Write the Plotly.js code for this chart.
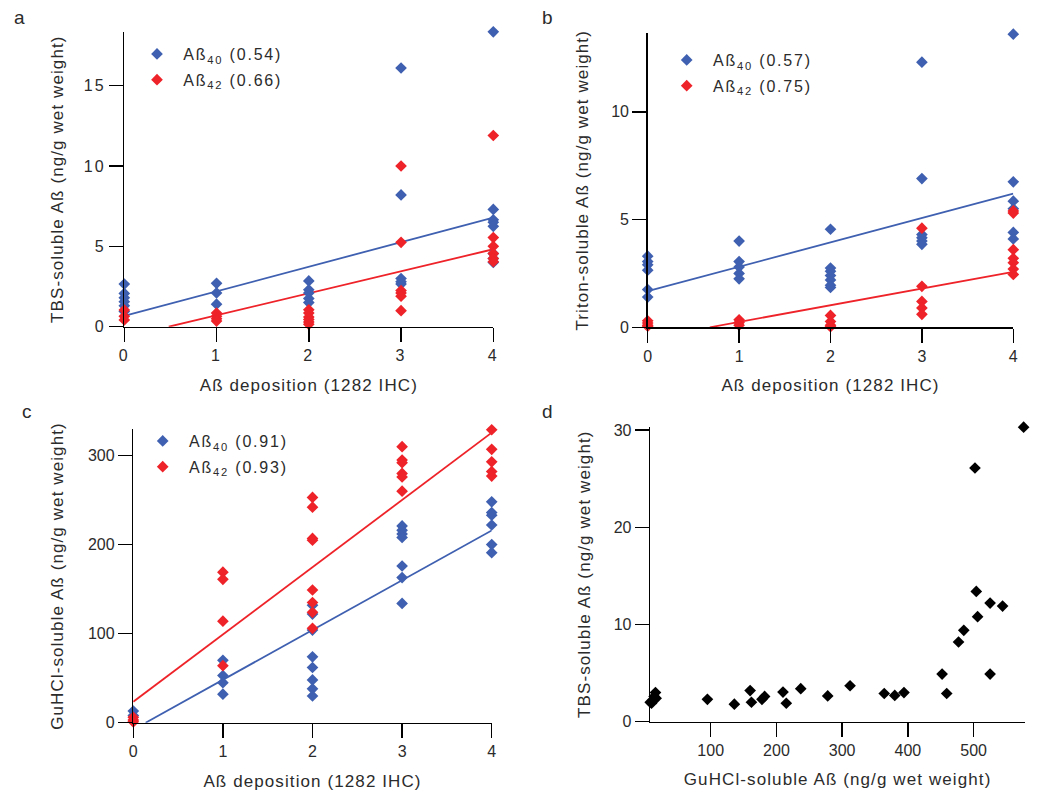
<!DOCTYPE html>
<html>
<head>
<meta charset="utf-8">
<script src="https://cdn.plot.ly/plotly-3.0.1.min.js"></script>
<style>
  html, body { margin: 0; padding: 0; background: #fff; }
  #chart { width: 1050px; height: 804px; }
  .main-svg .xtick text, .main-svg .ytick text { letter-spacing: 2px; }
  .main-svg text[class*="title"] { letter-spacing: 1.1px; }
</style>
</head>
<body>
<div id="chart"></div>
<script>
// ---------- Panel a: TBS-soluble Aß vs deposition ----------
const aX40 = [0,0,0,0,0,0, 1,1,1, 2,2,2,2,2, 3,3,3,3,3, 4,4,4,4,4,4,4,4];
const aY40 = [2.65,2.07,1.8,1.56,1.3,0.95, 2.7,2.1,1.4, 2.85,2.3,2.1,1.75,1.5, 16.1,8.2,3.0,2.8,2.65, 18.35,7.3,6.65,6.5,6.25,4.55,4.25,4.0];
const aX42 = [0,0,0, 1,1,1,1, 2,2,2,2,2,2, 3,3,3,3,3,3, 4,4,4,4,4,4];
const aY42 = [1.04,0.65,0.42, 0.85,0.65,0.5,0.35, 1.05,0.85,0.6,0.45,0.3,0.15, 10.0,5.25,2.25,2.1,1.9,1.0, 11.9,5.55,5.0,4.55,4.25,4.05];
const aFit40 = [1.53, 0.67];   // [slope, intercept]
const aFit42 = [1.37, -0.66];
const aR = ['0.54', '0.66'];

// ---------- Panel b: Triton-soluble Aß vs deposition ----------
const bX40 = [0,0,0,0,0,0, 1,1,1,1,1, 2,2,2,2,2,2,2, 3,3,3,3,3,3, 4,4,4,4,4,4];
const bY40 = [3.3,3.05,2.9,2.65,1.75,1.4, 4.0,3.05,2.8,2.5,2.25, 4.55,2.75,2.6,2.4,2.2,1.95,1.85, 12.3,6.9,4.3,4.15,4.0,3.85, 13.6,6.75,5.85,5.5,4.4,4.1];
const bX42 = [0,0,0,0, 1,1,1, 2,2,2,2, 3,3,3,3,3, 4,4,4,4,4,4,4];
const bY42 = [0.3,0.2,0.1,0.05, 0.35,0.22,0.1, 0.55,0.27,0.1,0.03, 4.6,1.9,1.2,0.9,0.6, 5.4,5.3,3.6,3.2,3.0,2.7,2.45];
const bFit40 = [1.13, 1.68];
const bFit42 = [0.774, -0.526];
const bR = ['0.57', '0.75'];

// ---------- Panel c: GuHCl-soluble Aß vs deposition ----------
const cX40 = [0,0, 1,1,1,1, 2,2,2,2,2,2,2,2, 3,3,3,3,3,3,3, 4,4,4,4,4,4];
const cY40 = [13,8, 70,53,45,32, 132,122,104,74,62,48,38,30, 221,216,212,208,176,163,134, 248,236,233,222,200,191];
const cX42 = [0,0,0, 1,1,1,1, 2,2,2,2,2,2,2,2, 3,3,3,3,3,3, 4,4,4,4,4];
const cY42 = [6,3,1, 169,161,114,64, 253,242,207,205,149,135,124,106, 310,295,292,280,276,260, 329,307,293,282,277];
const cFit40 = [55.9, -7.7];
const cFit42 = [75.55, 23.5];
const cR = ['0.91', '0.93'];

// ---------- Panel d: TBS-soluble vs GuHCl-soluble Aß ----------
const dX = [8,10,12,14,16,17, 95,136,160,162,178,182,210,215,237,278,312,364,380,394,452,459,477,485,502,504,506,525,525,544,576];
const dY = [2.0,1.9,2.2,2.6,3.0,2.4, 2.3,1.8,3.2,2.0,2.3,2.6,3.05,1.9,3.4,2.65,3.7,2.9,2.7,3.0,4.9,2.9,8.2,9.4,26.1,13.4,10.8,12.2,4.9,11.9,30.3];

const depTicks = [0, 1, 2, 3, 4];
const dTicksX = [100, 200, 300, 400, 500];
const panelLabels = ['a', 'b', 'c', 'd'];
const depTitle = 'Aß deposition (1282 IHC)';
const yTitles = ['TBS-soluble Aß (ng/g wet weight)', 'Triton-soluble Aß (ng/g wet weight)',
                 'GuHCl-soluble Aß (ng/g wet weight)', 'TBS-soluble Aß (ng/g wet weight)'];
const dXTitle = 'GuHCl-soluble Aß (ng/g wet weight)';

const BLUE = '#3f60b0', RED = '#ee2229', TXT = '#2b2b2b';
const FONT = 'Liberation Sans, Arial, sans-serif';

function fitLine(fit, xmin, xmax) {
  const m = fit[0], b = fit[1];
  let x0 = xmin;
  if (m * x0 + b < 0) x0 = -b / m;
  return { x: [x0, xmax], y: [m * x0 + b, m * xmax + b] };
}

const traces = [];
function addPanel(n, X40, Y40, X42, Y42, f40, f42, R, legendName) {
  const xa = n === 1 ? 'x' : 'x' + n, ya = n === 1 ? 'y' : 'y' + n;
  const l40 = fitLine(f40, 0, 4), l42 = fitLine(f42, 0, 4);
  traces.push({ x: l40.x, y: l40.y, xaxis: xa, yaxis: ya, mode: 'lines', line: { color: BLUE, width: 1.8 }, showlegend: false, cliponaxis: false, hoverinfo: 'skip' });
  traces.push({ x: l42.x, y: l42.y, xaxis: xa, yaxis: ya, mode: 'lines', line: { color: RED, width: 1.8 }, showlegend: false, cliponaxis: false, hoverinfo: 'skip' });
  traces.push({ x: X40, y: Y40, xaxis: xa, yaxis: ya, mode: 'markers', type: 'scatter', cliponaxis: false,
    name: '\u00a0Aß<sub>40</sub> (' + R[0] + ')', legend: legendName, legendgroup: legendName + 'g40',
    marker: { symbol: 'diamond', size: 9, color: BLUE } });
  traces.push({ x: X42, y: Y42, xaxis: xa, yaxis: ya, mode: 'markers', type: 'scatter', cliponaxis: false,
    name: '\u00a0Aß<sub>42</sub> (' + R[1] + ')', legend: legendName, legendgroup: legendName + 'g42',
    marker: { symbol: 'diamond', size: 9, color: RED } });
}
addPanel(1, aX40, aY40, aX42, aY42, aFit40, aFit42, aR, 'legend');
addPanel(2, bX40, bY40, bX42, bY42, bFit40, bFit42, bR, 'legend2');
addPanel(3, cX40, cY40, cX42, cY42, cFit40, cFit42, cR, 'legend3');
traces.push({ x: dX, y: dY, xaxis: 'x4', yaxis: 'y4', mode: 'markers', type: 'scatter', cliponaxis: false, showlegend: false,
  marker: { symbol: 'diamond', size: 9, color: '#000' } });

const W = 1050, H = 804;
function dom(p0, p1) { return [p0 / W, p1 / W]; }
function vdom(top, bottom) { return [1 - bottom / H, 1 - top / H]; }

const axBase = {
  showline: true, linecolor: '#000', linewidth: 1.5, ticks: 'outside', ticklen: 14, tickwidth: 1.5, tickcolor: '#000',
  showgrid: false, zeroline: false, tickfont: { family: FONT, size: 16, color: TXT }, fixedrange: true
};
function xAx(domain, range, tickvals, anchor, title, standoff) {
  return Object.assign({}, axBase, { domain, range, tickmode: 'array', tickvals, ticktext: tickvals.map(String), anchor,
    title: { text: title, font: { family: FONT, size: 17, color: TXT }, standoff } });
}
function yAx(domain, range, dtick, anchor, title, standoff) {
  return Object.assign({}, axBase, { domain, range, tickmode: 'linear', tick0: 0, dtick, anchor,
    title: { text: title, font: { family: FONT, size: 17, color: TXT }, standoff } });
}

const legBase = { bgcolor: 'rgba(0,0,0,0)', font: { family: FONT, size: 16, color: TXT }, tracegroupgap: 2, xanchor: 'left', yanchor: 'top', itemclick: false };

const layout = {
  width: W, height: H, margin: { l: 0, r: 0, t: 0, b: 0 }, paper_bgcolor: '#fff', plot_bgcolor: 'rgba(0,0,0,0)',
  showlegend: true, font: { family: FONT, color: TXT },
  xaxis: xAx(dom(124.3, 493.3), [0, 4], depTicks, 'y', depTitle, 15),
  yaxis: yAx(vdom(31.7, 326.7), [0, 18.36], 5, 'x', yTitles[0], 20),
  xaxis2: xAx(dom(647.7, 1013.3), [0, 4], depTicks, 'y2', depTitle, 15),
  yaxis2: yAx(vdom(33.3, 327.3), [0, 13.64], 5, 'x2', yTitles[1], 18),
  xaxis3: xAx(dom(133.3, 491.7), [0, 4], depTicks, 'y3', depTitle, 15),
  yaxis3: yAx(vdom(429.3, 722.7), [0, 329.5], 100, 'x3', yTitles[2], 20),
  xaxis4: xAx(dom(650.2, 1025), [8, 578.1], dTicksX, 'y4', dXTitle, 14),
  yaxis4: yAx(vdom(426.7, 721.7), [0, 30.35], 10, 'x4', yTitles[3], 18),
  legend: Object.assign({}, legBase, { x: 137 / W, y: 1 - 37 / H }),
  legend2: Object.assign({}, legBase, { x: 666.7 / W, y: 1 - 43 / H }),
  legend3: Object.assign({}, legBase, { x: 142.7 / W, y: 1 - 424 / H }),
  annotations: [
    { text: panelLabels[0], x: 12 / W, y: 1 - 18 / H },
    { text: panelLabels[1], x: 540 / W, y: 1 - 18 / H },
    { text: panelLabels[2], x: 20 / W, y: 1 - 411 / H },
    { text: panelLabels[3], x: 540 / W, y: 1 - 411 / H }
  ].map(a => Object.assign(a, { xref: 'paper', yref: 'paper', xanchor: 'left', yanchor: 'middle', showarrow: false,
    font: { family: FONT, size: 19, color: TXT } }))
};

function spaceLegends() {
  // widen legend text spacing like the original typesetting and let it overflow the legend box
  document.querySelectorAll('svg text').forEach(function (t) {
    if (t.textContent.indexOf('Aß') >= 0 && t.textContent.indexOf('(0.') >= 0) t.style.letterSpacing = '1.8px';
  });
  document.querySelectorAll('svg g').forEach(function (g) {
    const c = g.getAttribute('class') || '';
    if (c.indexOf('legend') >= 0 || c.indexOf('scrollbox') >= 0) g.removeAttribute('clip-path');
  });
}

const gdiv = document.getElementById('chart');
Plotly.newPlot(gdiv, traces, layout, { staticPlot: true, displayModeBar: false }).then(function () {
  spaceLegends();
  setTimeout(spaceLegends, 30);
  setTimeout(spaceLegends, 200);
});
gdiv.on && gdiv.on('plotly_afterplot', spaceLegends);
</script>
</body>
</html>
